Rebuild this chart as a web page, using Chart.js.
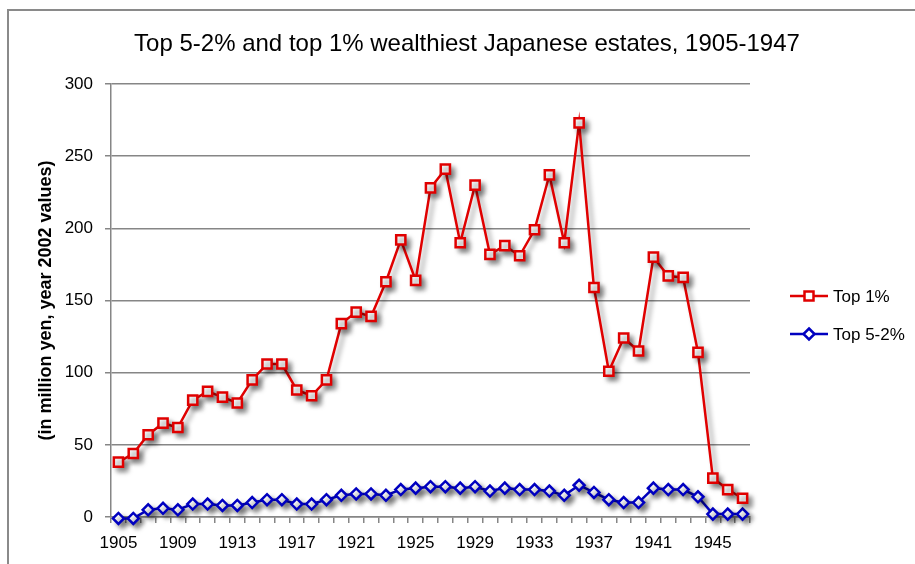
<!DOCTYPE html>
<html lang="en">
<head>
  <meta charset="UTF-8">
  <title>Top 5-2% and top 1% wealthiest Japanese estates</title>
  <style>
    body {
      margin: 0;
      background: #fff;
      overflow: hidden;
    }
    .wrap {
      position: relative;
      width: 915px;
      height: 564px;
    }
    .frame {
      position: absolute;
      left: 7px;
      top: 9px;
      width: 960px;
      height: 600px;
      border-top: 2px solid #8a8a8a;
      border-left: 2px solid #8a8a8a;
    }
    canvas {
      position: absolute;
      left: 0;
      top: 0;
    }
  </style>
</head>
<body>
  <div class="wrap">
    <div class="frame"></div>
    <canvas id="estates" width="915" height="564"></canvas>
  </div>

  <script src="https://cdn.jsdelivr.net/npm/chart.js"></script>

  <script>
    // years 1905..1947
    const years = [
      '1905', '1906', '1907', '1908', '1909', '1910', '1911', '1912', '1913', '1914',
      '1915', '1916', '1917', '1918', '1919', '1920', '1921', '1922', '1923', '1924',
      '1925', '1926', '1927', '1928', '1929', '1930', '1931', '1932', '1933', '1934',
      '1935', '1936', '1937', '1938', '1939', '1940', '1941', '1942', '1943', '1944',
      '1945', '1946', '1947'
    ];

    const top1 = [
      38, 44, 57, 65, 62, 81, 87, 83, 79, 95,
      106, 106, 88, 84, 95, 134, 142, 139, 163, 192,
      164, 228, 241, 190, 230, 182, 188, 181, 199, 237,
      190, 273, 159, 101, 124, 115, 180, 167, 166, 114,
      27, 19, 13
    ];

    const top5to2 = [
      -1, -1, 5, 6, 5, 9, 9, 8, 8, 10,
      12, 12, 9, 9, 12, 15, 16, 16, 15, 19,
      20, 21, 21, 20, 21, 18, 20, 19, 19, 18,
      15, 22, 17, 12, 10, 10, 20, 19, 19, 14,
      2, 2, 2
    ];

    const yTicks = { min: 0, max: 300, step: 50 };

    const chartTitle = 'Top 5-2% and top 1% wealthiest Japanese estates, 1905-1947';
    const yTitle = '(in million yen, year 2002 values)';

    const gridGrey = '#868686';
    const font = 'Liberation Sans';

    // soft drop shadow under lines and markers
    const shadowPlugin = {
      id: 'shadow',
      beforeDatasetsDraw(chart) {
        const ctx = chart.ctx;
        ctx.save();
        ctx.shadowColor = 'rgba(0,0,0,0.4)';
        ctx.shadowBlur = 5;
        ctx.shadowOffsetX = 4;
        ctx.shadowOffsetY = 4;
      },
      afterDatasetsDraw(chart) {
        chart.ctx.restore();
      }
    };

    // title centred on the whole frame, not just the plot
    const topTitle = {
      id: 'topTitle',
      afterDraw(chart) {
        const ctx = chart.ctx;
        ctx.save();
        ctx.fillStyle = '#000';
        ctx.font = '24px "' + font + '"';
        ctx.textAlign = 'center';
        ctx.textBaseline = 'middle';
        ctx.fillText(chartTitle, 467, 44);
        ctx.restore();
      }
    };

    // legend with line + marker, on the right
    const sideLegend = {
      id: 'sideLegend',
      afterDraw(chart) {
        const ctx = chart.ctx;
        const x0 = 790, x1 = 828, tx = 833;
        const rows = [296, 334];
        chart.data.datasets.forEach((ds, i) => {
          const y = rows[i];
          ctx.save();
          ctx.strokeStyle = ds.borderColor;
          ctx.lineWidth = ds.borderWidth;
          ctx.beginPath();
          ctx.moveTo(x0, y);
          ctx.lineTo(x1, y);
          ctx.stroke();
          const cx = (x0 + x1) / 2;
          ctx.fillStyle = '#fff';
          ctx.lineWidth = ds.pointBorderWidth;
          ctx.beginPath();
          if (ds.pointStyle === 'rect') {
            ctx.rect(cx - 4.5, y - 4.5, 9, 9);
          } else {
            ctx.moveTo(cx, y - 5.5);
            ctx.lineTo(cx + 5.5, y);
            ctx.lineTo(cx, y + 5.5);
            ctx.lineTo(cx - 5.5, y);
            ctx.closePath();
          }
          ctx.fill();
          ctx.stroke();
          ctx.fillStyle = '#000';
          ctx.font = '17px "' + font + '"';
          ctx.textBaseline = 'middle';
          ctx.fillText(ds.label, tx, y + 1);
          ctx.restore();
        });
      }
    };

    new Chart(document.getElementById('estates'), {
      type: 'line',
      data: {
        labels: years,
        datasets: [
          {
            label: 'Top 1%',
            data: top1,
            borderColor: '#e00000',
            borderWidth: 2.5,
            pointStyle: 'rect',
            pointRadius: 6.5,
            pointBorderWidth: 2.5,
            pointBackgroundColor: '#fff',
            pointBorderColor: '#e00000',
            tension: 0,
            clip: false
          },
          {
            label: 'Top 5-2%',
            data: top5to2,
            borderColor: '#0000c0',
            borderWidth: 2.5,
            pointStyle: 'rectRot',
            pointRadius: 5.5,
            pointBorderWidth: 2.5,
            pointBackgroundColor: '#fff',
            pointBorderColor: '#0000c0',
            tension: 0,
            clip: false
          }
        ]
      },
      options: {
        responsive: false,
        animation: false,
        layout: {
          padding: { left: 0, right: 165, top: 84, bottom: 0 }
        },
        plugins: {
          legend: { display: false },
          tooltip: { enabled: false },
          title: { display: false }
        },
        scales: {
          x: {
            offset: true,
            grid: {
              offset: true,
              drawOnChartArea: false,
              drawTicks: true,
              tickLength: 6,
              color: gridGrey,
              lineWidth: 1.5
            },
            border: { color: gridGrey, width: 1.5 },
            ticks: {
              autoSkip: false,
              maxRotation: 0,
              padding: 10,
              color: '#000',
              font: { family: font, size: 17 },
              callback: function (value, index) {
                return index % 4 === 0 ? years[index] : '';
              }
            },
            afterFit(scale) {
              scale.height = 47;
            }
          },
          y: {
            min: yTicks.min,
            max: yTicks.max,
            grid: {
              color: gridGrey,
              lineWidth: 1.5,
              tickLength: 6
            },
            border: { color: gridGrey, width: 1.5 },
            ticks: {
              stepSize: yTicks.step,
              padding: 12,
              color: '#000',
              font: { family: font, size: 17 }
            },
            title: {
              display: true,
              text: yTitle,
              color: '#000',
              font: { family: font, size: 18, weight: 'bold' },
              padding: { top: 35, bottom: 0 }
            },
            afterFit(scale) {
              scale.width = 111;
            }
          }
        }
      },
      plugins: [shadowPlugin, topTitle, sideLegend]
    });
  </script>
</body>
</html>
